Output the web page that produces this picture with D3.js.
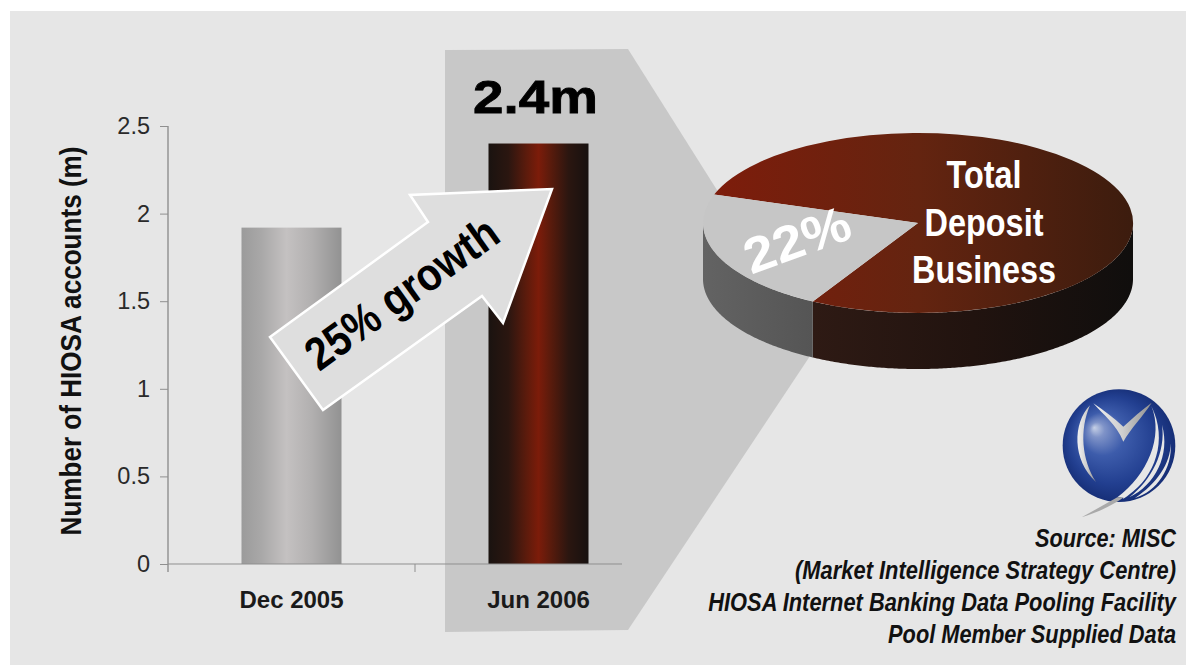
<!DOCTYPE html>
<html>
<head>
<meta charset="utf-8">
<script src="https://d3js.org/d3.v7.min.js"></script>
<style>
  html, body { margin: 0; padding: 0; background: #fff; }
  svg { display: block; }
  text { font-family: "Liberation Sans", Arial, sans-serif; }
</style>
</head>
<body>
<script>
// Account numbers
const periods = ["Dec 2005", "Jun 2006"];
const accounts = [1.92, 2.4];
const yTicks = [0, 0.5, 1, 1.5, 2, 2.5];
const yTickLabels = ["0", "0.5", "1", "1.5", "2", "2.5"];
const yTitle = "Number of HIOSA accounts (m)";
const headline = "2.4m";
const growthLabel = "25% growth";

// Share of total deposit business
const shareNames = ["Total Deposit Business", "HIOSA"];
const shareValues = [78, 22];
const shareLabel = "22%";
const pieLines = ["Total", "Deposit", "Business"];

const sourceLines = [
  "Source: MISC",
  "(Market Intelligence Strategy Centre)",
  "HIOSA Internet Banking Data Pooling Facility",
  "Pool Member Supplied Data"
];

const W = 1186, H = 665;
const svg = d3.select("body").append("svg").attr("width", W).attr("height", H);
const defs = svg.append("defs");

function linear(id, stops, attrs) {
  const g = defs.append("linearGradient").attr("id", id);
  Object.entries(attrs || {}).forEach(([k, v]) => g.attr(k, v));
  stops.forEach(([o, c]) => g.append("stop").attr("offset", o).attr("stop-color", c));
}

// Places a text and squeezes or stretches it horizontally to a given run length
function placeText(sel, px, py, rotate, width) {
  const natural = sel.node().getComputedTextLength();
  sel.attr("transform", `translate(${px},${py}) rotate(${rotate}) scale(${width / natural},1)`);
  return sel;
}

linear("barGrey", [[0, "#9b9b9b"], [0.2, "#a9a8a8"], [0.45, "#c4c1c1"], [0.7, "#b2b0b0"], [1, "#929292"]]);
linear("barRed", [[0, "#1a1310"], [0.2, "#2b1610"], [0.38, "#5c1b0c"], [0.5, "#7c1c0a"], [0.62, "#5a1b0c"], [0.8, "#2b1610"], [1, "#171110"]]);
const unitSpace = { gradientUnits: "userSpaceOnUse", x1: -1, x2: 1, y1: 0, y2: 0 };
linear("pieTop", [[0, "#7f1c0b"], [0.5, "#642410"], [1, "#3c1c0e"]], unitSpace);
linear("sideDark", [[0, "#2e1a14"], [0.5, "#21130f"], [1, "#100e0d"]]);
linear("sideGrey", [[0, "#636363"], [1, "#555555"]]);

// Backdrop panel and the call-out band linking the bar to the pie
svg.append("rect").attr("x", 10).attr("y", 11).attr("width", W - 10).attr("height", H - 11).attr("fill", "#e6e6e6");
svg.append("path")
  .attr("d", "M445,50 L628,49 L722,198 L812,353 L628,630 L445,632 Z")
  .attr("fill", "#c8c8c8");

// Scales
const x = d3.scaleBand().domain(periods).range([168, 662]).paddingInner(0).paddingOuter(0);
const y = d3.scaleLinear().domain([0, 2.5]).range([564, 126]);
const barWidth = 100;
const axisColor = "#8f8f8f";

// Bars
svg.selectAll("rect.bar").data(periods).join("rect")
  .attr("class", "bar")
  .attr("x", d => x(d) + (x.bandwidth() - barWidth) / 2)
  .attr("width", barWidth)
  .attr("y", (d, i) => y(accounts[i]))
  .attr("height", (d, i) => y(0) - y(accounts[i]))
  .attr("fill", (d, i) => i === 0 ? "url(#barGrey)" : "url(#barRed)");

// Y axis, its line running a little past zero
const yAxis = svg.append("g").attr("transform", "translate(168,0)")
  .call(d3.axisLeft(y).tickValues(yTicks).tickSize(8).tickSizeOuter(0).tickPadding(10)
    .tickFormat((d, i) => yTickLabels[i]));
yAxis.select(".domain").remove();
yAxis.selectAll("line").attr("stroke", axisColor);
yAxis.selectAll("text").attr("font-size", 23.5).attr("fill", "#2a2a2a");
svg.append("line").attr("x1", 168).attr("x2", 168).attr("y1", y(2.5)).attr("y2", y(0) + 8)
  .attr("stroke", axisColor).attr("stroke-width", 1.4);

// X axis
const xAxis = svg.append("g").attr("transform", `translate(0,${y(0)})`)
  .call(d3.axisBottom(x).tickSize(0).tickPadding(27));
xAxis.select(".domain").remove();
xAxis.selectAll("text").attr("font-size", 24).attr("font-weight", "bold").attr("fill", "#1a1a1a");
svg.append("line").attr("x1", 168).attr("x2", 622).attr("y1", y(0)).attr("y2", y(0)).attr("stroke", axisColor);
svg.append("line").attr("x1", x(periods[1])).attr("x2", x(periods[1]))
  .attr("y1", y(0)).attr("y2", y(0) + 8).attr("stroke", axisColor);

// Axis title
svg.append("text")
  .attr("text-anchor", "middle")
  .attr("font-size", 30).attr("font-weight", "bold").attr("fill", "#111")
  .text(yTitle)
  .call(placeText, 81, 341, -90, 389);

// Headline above the second bar
svg.append("text")
  .attr("text-anchor", "middle")
  .attr("font-size", 46).attr("font-weight", "bold").attr("fill", "#000")
  .attr("stroke", "#000").attr("stroke-width", 0.8)
  .text(headline)
  .call(placeText, 535.5, 113, 0, 125);

// Growth arrow
svg.append("path")
  .attr("d", "M270,337 L323,410 L482,296 L503,323 L552,189 L410,195 L428,222 Z")
  .attr("fill", "#dedede").attr("stroke", "#fff").attr("stroke-width", 2.5).attr("stroke-linejoin", "miter");
svg.append("text")
  .attr("text-anchor", "middle")
  .attr("font-size", 46).attr("font-weight", "bold").attr("fill", "#000")
  .text(growthLabel)
  .call(placeText, 411, 306, -35.7, 226);

// 3D pie: an arc generator on a unit circle, flattened into an ellipse
const pieCx = 918, pieCy = 223, pieRx = 215, pieRy = 90, pieDepth = 56;
const deg = Math.PI / 180;
const pieStart = 288.5 * deg;
const slices = d3.pie().sort(null).startAngle(pieStart).endAngle(pieStart + 2 * Math.PI)(shareValues);
const arc = d3.arc().innerRadius(0).outerRadius(1);
const wrap = a => ((a % (2 * Math.PI)) + 2 * Math.PI) % (2 * Math.PI);
const splitAngle = wrap(slices[1].startAngle);

// Walls are the lower half of the rim, extruded downwards
const rim = d3.area()
  .x(a => pieCx + pieRx * Math.sin(a))
  .y0(a => pieCy - pieRy * Math.cos(a))
  .y1(a => pieCy - pieRy * Math.cos(a) + pieDepth);
const rimAngles = (a0, a1) => d3.range(a0, a1, 0.01).concat([a1]);
svg.append("path").attr("d", rim(rimAngles(90 * deg, splitAngle))).attr("fill", "url(#sideDark)");
svg.append("path").attr("d", rim(rimAngles(splitAngle, 270 * deg))).attr("fill", "url(#sideGrey)");

const pieGroup = svg.append("g")
  .attr("transform", `translate(${pieCx},${pieCy}) scale(${pieRx},${pieRy})`);
pieGroup.selectAll("path").data(slices).join("path")
  .attr("d", arc)
  .attr("fill", (d, i) => i === 0 ? "url(#pieTop)" : "#c6c6c6")
  .append("title").text((d, i) => shareNames[i]);

const pieLineWidths = [75, 119, 144];
const pieLineBaselines = [188, 236, 283];
pieLines.forEach((line, i) => {
  svg.append("text")
    .attr("text-anchor", "middle")
    .attr("font-size", 38).attr("font-weight", "bold").attr("fill", "#fff")
    .text(line)
    .call(placeText, 984, pieLineBaselines[i], 0, pieLineWidths[i]);
});

svg.append("text")
  .attr("text-anchor", "middle")
  .attr("font-size", 50).attr("font-weight", "bold").attr("fill", "#fff")
  .text(shareLabel)
  .call(placeText, 803, 256, -20, 110);

// Company emblem
const glow = defs.append("radialGradient").attr("id", "orb")
  .attr("cx", 0.5).attr("cy", 0.5).attr("r", 0.55).attr("fx", 0.28).attr("fy", 0.34);
[[0, "#c6d0e6"], [0.12, "#7f93c8"], [0.35, "#3d5cab"], [0.7, "#223f90"], [1, "#132a70"]]
  .forEach(([o, c]) => glow.append("stop").attr("offset", o).attr("stop-color", c));
linear("silver", [[0, "#f2f2f2"], [0.5, "#cfcfcf"], [1, "#8f8f8f"]]);
const logo = svg.append("g").attr("transform", "translate(1040,380) scale(0.3333)");
logo.append("circle").attr("cx", 237).attr("cy", 197).attr("r", 169).attr("fill", "url(#orb)");
[
  "M160,70 C190,105 228,132 250,185 C272,145 310,108 335,68 C305,90 278,115 250,140 C222,115 190,90 160,70 Z",
  "M150,76 C98,130 96,240 168,306 C125,240 118,150 150,76 Z"
].forEach(d => logo.append("path").attr("d", d).attr("fill", "url(#silver)"));
[
  "M334,78 C372,170 322,285 232,352 C260,350 240,365 266,345 C345,290 385,180 334,78 Z",
  "M366,135 C378,215 335,300 268,352 C345,315 392,225 366,135 Z",
  "M392,190 C392,250 350,312 285,354 C350,335 398,265 392,190 Z"
].forEach(d => logo.append("path").attr("d", d).attr("fill", "#e6e6e6"));
logo.append("path").attr("d", "M125,412 L232,352 L252,352 C210,380 170,398 125,412 Z").attr("fill", "#a9a9a9");

// Source note
const sourceWidths = [141, 381, 468, 288];
sourceLines.forEach((line, i) => {
  svg.append("text")
    .attr("text-anchor", "end")
    .attr("font-size", 25).attr("font-weight", "bold").attr("font-style", "italic").attr("fill", "#111")
    .text(line)
    .call(placeText, 1176, 547 + i * 32, 0, sourceWidths[i]);
});
</script>
</body>
</html>
